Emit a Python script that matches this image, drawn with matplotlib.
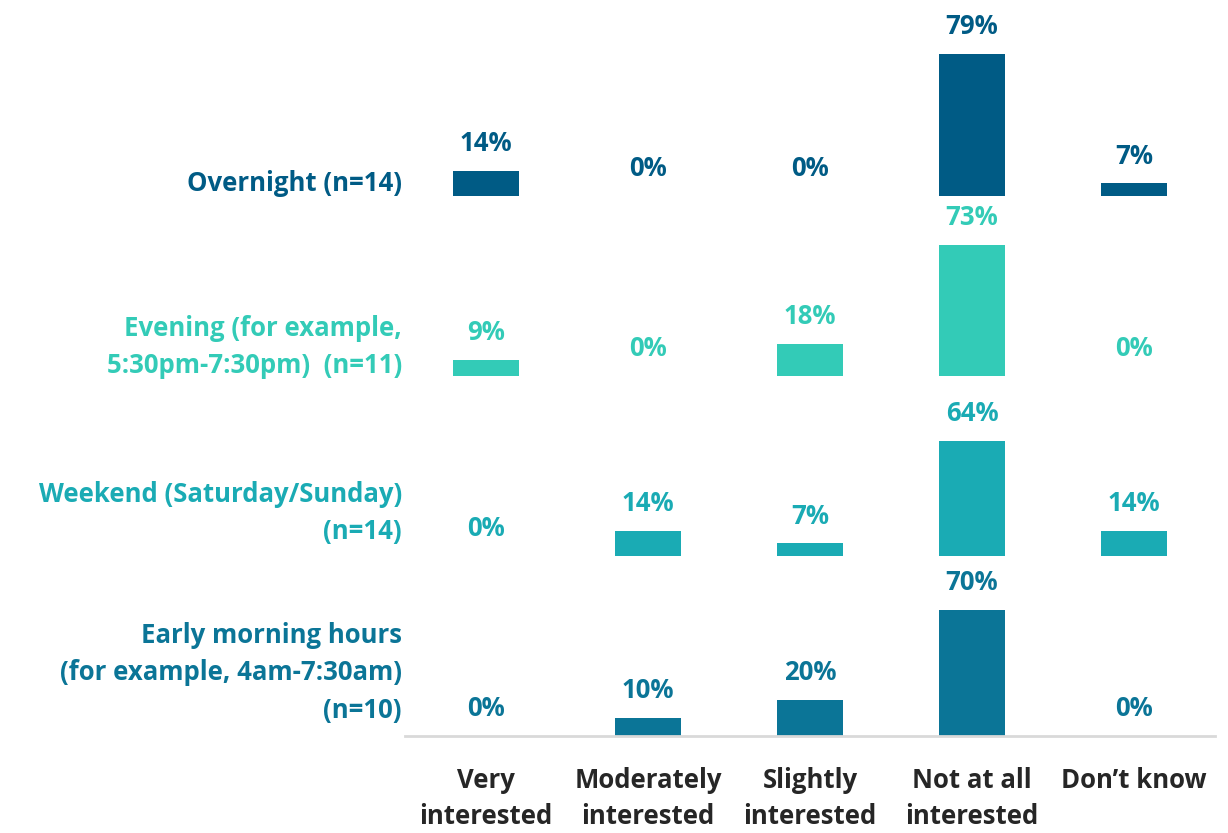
import matplotlib.pyplot as plt

plt.rcParams['font.family'] = ['Open Sans', 'DejaVu Sans']

responses = ["Very\ninterested", "Moderately\ninterested", "Slightly\ninterested",
             "Not at all\ninterested", "Don\u2019t know"]
groups = ["Overnight (n=14)",
          "Evening (for example,\n5:30pm-7:30pm)  (n=11)",
          "Weekend (Saturday/Sunday)\n(n=14)",
          "Early morning hours\n(for example, 4am-7:30am)\n(n=10)"]
values = [
    [14, 0, 0, 79, 7],
    [9, 0, 18, 73, 0],
    [0, 14, 7, 64, 14],
    [0, 10, 20, 70, 0],
]
colors = ["#005B85", "#33CBB7", "#1AABB4", "#0B7597"]
label_y = [307, 216, 124, 35]   # vertical centre of each group label

fig = plt.figure(figsize=(12.28, 8.33), dpi=100)
ax = fig.add_axes([405 / 1228, 97 / 833, 810 / 1228, 720 / 833])

row_h = 100
for i, (grp, vals, col) in enumerate(zip(groups, values, colors)):
    base = (len(groups) - 1 - i) * row_h
    xs = range(len(vals))
    ax.bar(xs, vals, bottom=base, width=0.41, color=col)
    for x, v in zip(xs, vals):
        ax.text(x, base + v + 15, f"{v}%", ha='center', va='center',
                fontsize=18.5, fontweight='bold', color=col)
    ax.text(-0.52, label_y[i], grp, ha='right', va='center', fontsize=18.5,
            fontweight='bold', color=col, linespacing=1.5, clip_on=False)

for x, r in enumerate(responses):
    ax.text(x, -17, r, ha='center', va='top', fontsize=18.5, fontweight='bold',
            color='#262626', linespacing=1.45, clip_on=False)

ax.set_xlim(-0.5, 4.5)
ax.set_ylim(0, 400)
for s in ['top', 'right', 'left']:
    ax.spines[s].set_visible(False)
ax.spines['bottom'].set_color('#D9D9D9')
ax.spines['bottom'].set_linewidth(2)
ax.set_xticks([])
ax.set_yticks([])

fig.savefig("out.png", dpi=100)
